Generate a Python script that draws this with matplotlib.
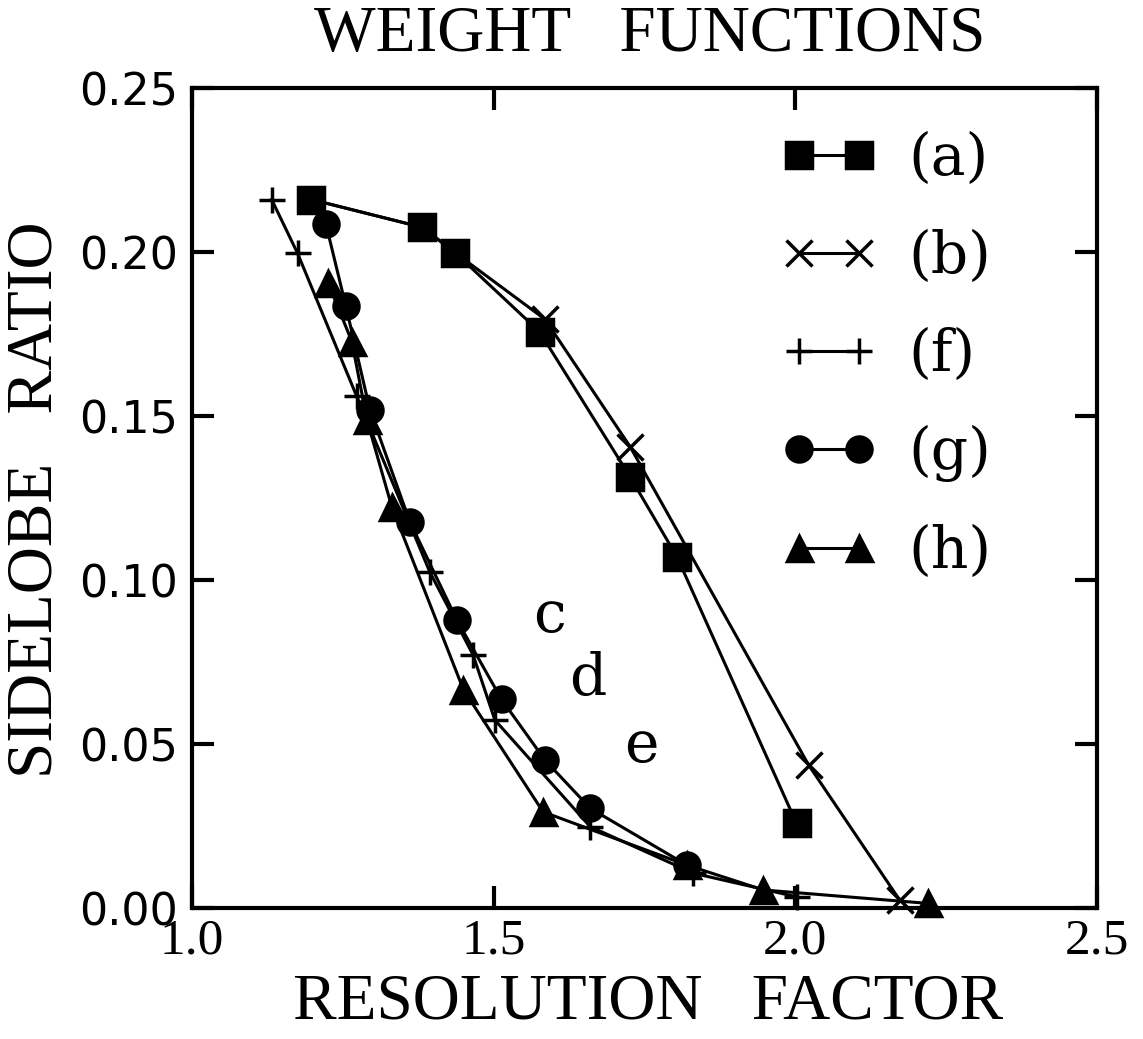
import numpy as np
import matplotlib
matplotlib.use("Agg")
import matplotlib.pyplot as plt

# weight functions
a_x = [1.198, 1.382, 1.436, 1.576, 1.726, 1.804, 2.002]
a_y = [0.216, 0.2075, 0.1998, 0.1757, 0.1315, 0.107, 0.0258]

b_x = [1.198, 1.382, 1.436, 1.585, 1.726, 2.022, 2.173]
b_y = [0.216, 0.2075, 0.1998, 0.1795, 0.1407, 0.0436, 0.0024]

f_x = [1.132, 1.175, 1.273, 1.394, 1.466, 1.502, 1.660, 1.831, 2.002]
f_y = [0.216, 0.1996, 0.156, 0.1025, 0.0771, 0.0573, 0.0248, 0.0106, 0.0034]

g_x = [1.222, 1.255, 1.295, 1.361, 1.439, 1.513, 1.585, 1.660, 1.820]
g_y = [0.2085, 0.1835, 0.1518, 0.1178, 0.0878, 0.0636, 0.0451, 0.0304, 0.0131]

h_x = [1.226, 1.265, 1.290, 1.331, 1.450, 1.582, 1.820, 1.947, 2.220]
h_y = [0.1904, 0.1727, 0.1488, 0.1224, 0.0665, 0.0293, 0.0131, 0.0055, 0.0014]

labels = ["(a)", "(b)", "(f)", "(g)", "(h)"]
markers = ["s", "x", "+", "o", "^"]
xticks = [1.0, 1.5, 2.0, 2.5]
yticks = [0.00, 0.05, 0.10, 0.15, 0.20, 0.25]

# curves c, d, e only marked by letters
note_txt = ["c", "d", "e"]
note_x = [1.593, 1.656, 1.745]
note_y = [0.0842, 0.0649, 0.0446]

fig = plt.figure(figsize=(11.43, 10.39), dpi=100)
ax = fig.add_axes([192/1143, 131/1039, 905/1143, 820/1039])

series = [(a_x, a_y), (b_x, b_y), (f_x, f_y), (g_x, g_y), (h_x, h_y)]
for (xs, ys), m, lab in zip(series, markers, labels):
    ms = 19
    if m in ("o", "^"):
        ms = 18
    ax.plot(xs, ys, color="black", lw=2.2, marker=m, ms=ms, mew=2.5,
            mfc="black", mec="black", label=lab, clip_on=False)

for t, x, y in zip(note_txt, note_x, note_y):
    ax.text(x, y, t, ha="center", va="baseline", fontsize=42, family="DejaVu Serif")

ax.set_xlim(1.0, 2.5)
ax.set_ylim(0.0, 0.25)
ax.set_xticks(xticks)
ax.set_yticks(yticks)
ax.set_xticklabels(["%.1f" % v for v in xticks], fontsize=37, family="Liberation Serif")
ax.set_yticklabels(["%.2f" % v for v in yticks], fontsize=32, family="DejaVu Sans")
ax.tick_params(direction="in", length=16, width=3, top=True, right=True)
ax.tick_params(axis="x", pad=7)
ax.tick_params(axis="y", pad=10)
for s in ax.spines.values():
    s.set_linewidth(3)

leg = ax.legend(loc="upper left", bbox_to_anchor=(781/1143, 1 - 131/1039),
                bbox_transform=fig.transFigure, frameon=False, numpoints=2,
                handlelength=1.64, handletextpad=0.55, labelspacing=0.72,
                borderpad=0, borderaxespad=0,
                prop={"family": "DejaVu Serif", "size": 42})

fig.text(650/1143, 1 - 35/1039, "WEIGHT   FUNCTIONS", ha="center", va="center",
         fontsize=47, family="Liberation Serif")
fig.text(648/1143, 1 - 1003/1039, "RESOLUTION   FACTOR", ha="center", va="center",
         fontsize=47, family="Liberation Serif")
fig.text(36/1143, 1 - 500/1039, "SIDELOBE   RATIO", ha="center", va="center",
         rotation=90, fontsize=47, family="Liberation Serif")

fig.savefig("out.png", dpi=100)
